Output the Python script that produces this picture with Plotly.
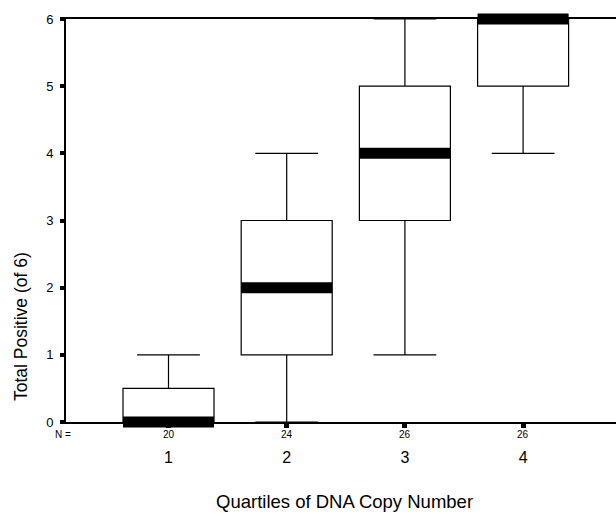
import plotly.graph_objects as go

categories = [1, 2, 3, 4]
cat_labels = ["1", "2", "3", "4"]
n_counts = ["20", "24", "26", "26"]
lower_whisker = [0, 0, 1, 4]
q1 = [0, 1, 3, 5]
median = [0, 2, 4, 6]
q3 = [0.5, 3, 5, 6]
upper_whisker = [1, 4, 6, 6]
y_ticks = [0, 1, 2, 3, 4, 5, 6]

FONT = "Liberation Sans, Arial, sans-serif"
BOX_W = 0.77
X_RANGE = [0.1328, 4.786]
PLOT_W_PX = 550
box_px = BOX_W * PLOT_W_PX / (X_RANGE[1] - X_RANGE[0])

fig = go.Figure()
fig.add_trace(go.Box(
    x=categories, q1=q1, median=median, q3=q3,
    lowerfence=lower_whisker, upperfence=upper_whisker,
    width=BOX_W, whiskerwidth=0.69, boxpoints=False,
    fillcolor="white", line=dict(color="black", width=1.2),
    showlegend=False, hoverinfo="skip",
))
# thick median bars (markers so they are not clipped at the axis limits);
# plotly's line-ew symbol is 1.4 x marker size long
fig.add_trace(go.Scatter(
    x=categories, y=median, mode="markers", cliponaxis=False,
    marker=dict(symbol="line-ew", size=box_px / 1.4,
                line=dict(color="black", width=11)),
    showlegend=False, hoverinfo="skip",
))

annotations = []
for c, n in zip(categories, n_counts):
    annotations.append(dict(x=c, xref="x", y=-0.032, yref="paper", text=n,
                            showarrow=False, font=dict(size=10, color="black", family=FONT),
                            yanchor="middle", xanchor="center"))
annotations.append(dict(x=-0.005, xref="paper", y=-0.032, yref="paper", text="N =",
                        showarrow=False, font=dict(size=10, color="black", family=FONT),
                        yanchor="middle", xanchor="center"))
annotations.append(dict(x=-0.0818, xref="paper", y=0.2357, yref="paper",
                        text="Total Positive (of 6)", textangle=-90, showarrow=False,
                        font=dict(size=17.5, color="black", family=FONT),
                        xanchor="center", yanchor="middle"))
annotations.append(dict(x=0.5055, xref="paper", y=-0.1985, yref="paper",
                        text="Quartiles of DNA Copy Number", showarrow=False,
                        font=dict(size=18.5, color="black", family=FONT),
                        xanchor="center", yanchor="middle"))

fig.update_layout(
    width=616, height=516,
    margin=dict(l=66, r=0, t=19, b=94),
    paper_bgcolor="white", plot_bgcolor="white",
    font=dict(family=FONT, color="black"),
    annotations=annotations,
    xaxis=dict(range=X_RANGE, tickvals=categories, ticktext=cat_labels,
               showline=True, linecolor="black", linewidth=1.5, mirror=True,
               ticks="outside", ticklen=4, tickwidth=5, tickcolor="black",
               ticklabelstandoff=16, tickfont=dict(size=16, color="black"),
               showgrid=False, zeroline=False, fixedrange=True),
    yaxis=dict(range=[0, 6], tickvals=y_ticks,
               showline=True, linecolor="black", linewidth=2,
               ticks="outside", ticklen=4, tickwidth=4, tickcolor="black",
               ticklabelstandoff=4, tickfont=dict(size=13, color="black"),
               showgrid=False, zeroline=False, fixedrange=True),
)

fig.write_html("out.html")
